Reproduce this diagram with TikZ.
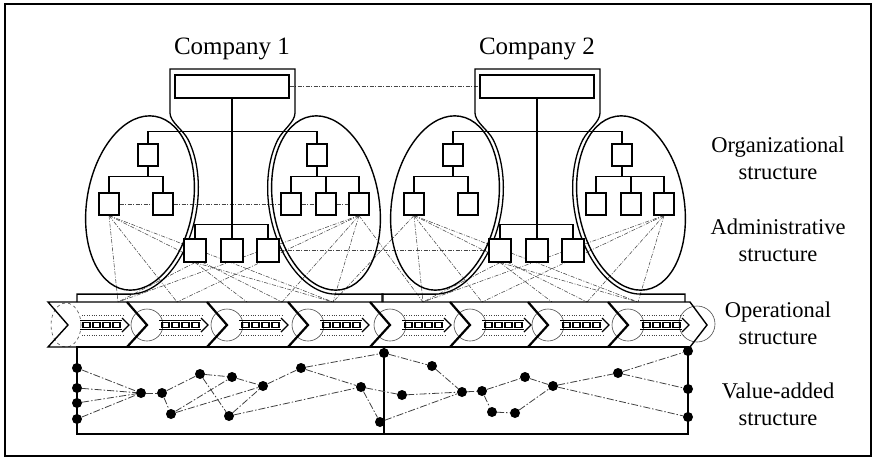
\documentclass[tikz,border=0pt]{standalone}
\usepackage{fontspec}
\setmainfont{Liberation Serif}
\usetikzlibrary{arrows.meta}
\pgfdeclarelayer{bg}
\pgfsetlayers{bg,main}
\begin{document}
\begin{tikzpicture}[x=1pt,y=-1pt,
  obox/.style={draw,fill=white,line width=1.1pt,minimum width=20pt,minimum height=22pt,inner sep=0pt},
  abox/.style={obox,minimum width=22pt,minimum height=23pt},
  orgline/.style={line width=1.1pt},
  ell/.style={line width=1.4pt},
  outl/.style={line width=1.3pt},
  fan/.style={draw=gray!55!black,line width=0.55pt,dash pattern=on 4pt off 1.5pt on 1pt off 1.5pt},
  vlink/.style={draw=gray!50!black,line width=0.8pt,dash pattern=on 7pt off 2pt on 1.5pt off 2pt},
  vdot/.style={circle,fill=black,inner sep=0pt,minimum size=10pt},
  lbl/.style={align=center,font=\fontsize{22.5}{27}\selectfont},
  chev/.style={line width=2.2pt},
  ring/.style={draw=gray!60!black,line width=0.6pt},
  pipe/.style={line width=1.1pt},
]
\useasboundingbox (0,0) rectangle (876,461);
\draw[line width=2pt] (5,4) rectangle (871,456);

% ---------------- companies ----------------
\foreach \c/\cx/\xl/\xr in {1/232/77/383,2/537/382/685}{
  \pgfmathsetmacro\lx{\cx-92}
  \pgfmathsetmacro\rx{\cx+94}
  \node[font=\fontsize{25}{28}\selectfont] (N\c) at (\cx,49) {Company \c};
  % ellipses
  \draw[ell,rotate around={-10:(\lx,203)}] (\lx,203) ellipse [x radius=53,y radius=88];
  \draw[ell,rotate around={10:(\rx,203)}] (\rx,203) ellipse [x radius=53,y radius=88];
  % company outline
  \draw[outl] (\xl,302) |- ({\lx-10},294.1)
    -- plot[domain=84:-50,samples=45,variable=\t]
      ({\lx+57*cos(\t)*cos(10)-92*sin(\t)*sin(10)},{203+57*cos(\t)*sin(10)+92*sin(\t)*cos(10)})
    .. controls ({\cx-48.6},130) and ({\cx-62},122) .. ({\cx-62},113)
    -- ({\cx-62},69) -- ({\cx+63},69) -- ({\cx+63},113)
    .. controls ({\cx+63},122) and ({\cx+50.6},130) .. ({\rx-48.3},140)
    -- plot[domain=230:96,samples=45,variable=\t]
      ({\rx+57*cos(\t)*cos(10)+92*sin(\t)*sin(10)},{203-57*cos(\t)*sin(10)+92*sin(\t)*cos(10)})
    -| (\xr,302);
  % boxes
  \node[obox,minimum width=114pt,minimum height=23pt] (T\c) at (\cx,86.5) {};
  \node[obox] (LT\c) at ({\cx-84},155) {};
  \node[obox] (LL\c) at ({\cx-123},204) {};
  \node[obox] (LR\c) at ({\cx-69},204) {};
  \node[obox] (RT\c) at ({\cx+85},155) {};
  \node[obox] (RA\c) at ({\cx+59},204) {};
  \node[obox] (RB\c) at ({\cx+94},204) {};
  \node[obox] (RC\c) at ({\cx+127},204) {};
  \node[abox] (A\c) at ({\cx-37},250.5) {};
  \node[abox] (B\c) at (\cx,250.5) {};
  \node[abox] (C\c) at ({\cx+36},250.5) {};
  % tree lines
  \draw[orgline] (T\c.south) -- (B\c.north);
  \draw[orgline] (A\c.north) -- ++(0,-14) -| (C\c.north);
  \draw[orgline] (LT\c.north) -- ++(0,-12) -| (RT\c.north);
  \draw[orgline] (LT\c.south) -- ++(0,10.5);
  \draw[orgline] (LL\c.north) -- ++(0,-16) -| (LR\c.north);
  \draw[orgline] (RT\c.south) -- ++(0,10.5);
  \draw[orgline] (RA\c.north) -- ++(0,-16) -| (RC\c.north);
  \draw[orgline] (RB\c.north) -- ++(0,-16);
  % fan lines to the operational band
  \foreach \k/\o in {1/-114,2/-55,3/15,4/50,5/101}{
    \coordinate (b\c\k) at ({\cx+\o},302);
  }
  \begin{pgfonlayer}{bg}
  \foreach \k in {1,2,4,5}{ \draw[fan] (LL\c.south) -- (b\c\k); }
  \foreach \k in {1,3,5}{ \draw[fan] (A\c.south) -- (b\c\k); }
  \foreach \k in {1,2,4,5}{ \draw[fan] (RC\c.south) -- (b\c\k); }
  \end{pgfonlayer}
}
\begin{pgfonlayer}{bg}
\draw[fan] (RC1.south) -- (b21);
\draw[fan] (LL2.south) -- (b15);
\draw[fan] (C1.east) -- (A2.west);
\draw[fan] (T1.east) -- (T2.west);
\draw[fan] (LL1.east) -- (LR1.west);
\draw[fan] (LR1.east) -- (RA1.west);
\draw[fan] (RA1.east) -- (RB1.west);
\draw[fan] (RB1.east) -- (RC1.west);
\end{pgfonlayer}

% ---------------- operational band ----------------
\draw[ring,dashed] (66,325) ellipse [x radius=15,y radius=22];
\foreach \x in {147,227,308,390,470,548,628}{ \draw[ring] (\x,325) circle [radius=16]; }
\draw[ring] (697,324) circle [radius=18];
\draw[line width=1.4pt] (48,302) -- (690,302) -- (707,325) -- (690,347) -- (48,347) -- (68,325) -- cycle;
\foreach \x in {127,207,288,370,450,528,608}{ \draw[chev] (\x,302) -- ({\x+20},325) -- (\x,347); }
\foreach \tp in {68,147,227,308,390,470,548,628}{
  \draw[gray!50!black,dotted] ({\tp+14},315) -- ({\tp+57},315);
  \draw[gray!50!black,dotted] ({\tp+14},335) -- ({\tp+57},335);
  \draw[pipe] ({\tp+12},320.5) -- ({\tp+54},320.5);
  \draw[pipe] ({\tp+12},329.5) -- ({\tp+54},329.5);
  \foreach \i in {0,1,2,3}{
    \draw[pipe] ({\tp+15+\i*10},322.5) rectangle ({\tp+22+\i*10},327.5);
  }
  \draw[line width=1.3pt] ({\tp+54},318) -- ({\tp+61},325) -- ({\tp+54},332);
}

% ---------------- value-added structure ----------------
\draw[line width=1.2pt] (77,347) rectangle (688,434);
\draw[line width=1.2pt] (384,347) -- (384,434);
\foreach \n/\p in {v1/{(77,368)},v2/{(77,388)},v3/{(77,403)},v4/{(77,419)},
  v5/{(141,393)},v6/{(162,393)},v7/{(200,374)},v8/{(232,377)},v9/{(171,414)},
  v10/{(229,416)},v11/{(263,386)},v12/{(301,368)},v13/{(361,387)},v14/{(380,422)},
  v15/{(384,353)},w1/{(432,366)},w2/{(402,395)},w3/{(462,392)},w4/{(482,391)},
  w5/{(492,412)},w6/{(515,413)},w7/{(525,377)},w8/{(553,386)},w9/{(618,373)},
  w10/{(688,351)},w11/{(688,389)},w12/{(688,417)}}{
  \node[vdot] (\n) at \p {};
}
\foreach \a/\b in {v1/v5,v2/v5,v3/v5,v4/v5,v5/v6,v6/v7,v6/v9,v7/v8,v7/v10,v9/v8,
  v9/v11,v8/v11,v10/v11,v11/v12,v10/v13,v12/v15,v12/v13,v13/v14,v14/w3,v15/w1,
  v13/w2,w1/w3,w2/w3,w3/w4,w4/w7,w4/w5,w5/w6,w6/w8,w7/w8,w8/w9,w8/w12,w9/w10,w9/w11}{
  \draw[vlink] (\a) -- (\b);
}

% ---------------- labels ----------------
\node[lbl] (Lorg) at (778,158.5) {Organizational\\structure};
\node[lbl] (Ladm) at (778,240.5) {Administrative\\structure};
\node[lbl] (Lope) at (778,323) {Operational\\structure};
\node[lbl] (Lval) at (778,404.5) {Value-added\\structure};
\end{tikzpicture}
\end{document}
